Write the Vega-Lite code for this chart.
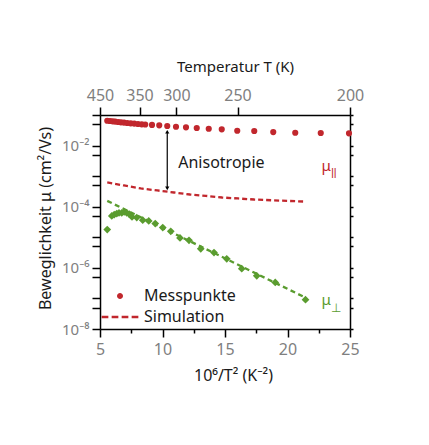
{
  "$schema": "https://vega.github.io/schema/vega-lite/v6.json",
  "width": 250,
  "height": 214,
  "autosize": {"type": "none"},
  "padding": {"left": 100, "top": 115, "right": 79, "bottom": 116},
  "background": "white",
  "config": {
    "font": "Noto Sans",
    "view": {"stroke": null},
    "axis": {
      "grid": false,
      "domainColor": "#000000",
      "tickColor": "#000000",
      "domainWidth": 1.5,
      "tickWidth": 1.5,
      "labelColor": "#7f7f7f",
      "labelFont": "Noto Sans",
      "labelFontSize": 16,
      "titleFont": "Noto Sans",
      "titleFontSize": 16,
      "titleFontWeight": "normal",
      "titleColor": "#1a1a1a",
      "labelOverlap": false,
      "labelFlush": false
    }
  },
  "datasets": {
    "par": [
      {"x": 5.58, "y": 0.0650}, {"x": 5.80, "y": 0.0636}, {"x": 6.02, "y": 0.0621},
      {"x": 6.22, "y": 0.0608}, {"x": 6.46, "y": 0.0589}, {"x": 6.68, "y": 0.0576},
      {"x": 6.92, "y": 0.0564}, {"x": 7.18, "y": 0.0547}, {"x": 7.46, "y": 0.0535},
      {"x": 7.74, "y": 0.0523}, {"x": 8.04, "y": 0.0507}, {"x": 8.34, "y": 0.0496},
      {"x": 8.62, "y": 0.0489}, {"x": 9.16, "y": 0.0474}, {"x": 9.74, "y": 0.0459},
      {"x": 10.38, "y": 0.0436}, {"x": 11.08, "y": 0.0413}, {"x": 11.88, "y": 0.0395},
      {"x": 12.74, "y": 0.0375}, {"x": 13.70, "y": 0.0356}, {"x": 14.74, "y": 0.0340},
      {"x": 15.98, "y": 0.0306}, {"x": 17.34, "y": 0.0299}, {"x": 18.86, "y": 0.0277},
      {"x": 20.62, "y": 0.0263}, {"x": 22.66, "y": 0.0257}, {"x": 24.92, "y": 0.0251}
    ],
    "perp": [
      {"x": 5.58, "y": 1.79e-5}, {"x": 5.94, "y": 4.99e-5}, {"x": 6.14, "y": 5.55e-5},
      {"x": 6.34, "y": 5.98e-5}, {"x": 6.52, "y": 6.26e-5}, {"x": 6.74, "y": 6.26e-5},
      {"x": 6.94, "y": 6.76e-5}, {"x": 7.14, "y": 6.26e-5}, {"x": 7.34, "y": 5.68e-5},
      {"x": 7.56, "y": 4.63e-5}, {"x": 7.94, "y": 4.43e-5}, {"x": 8.42, "y": 3.61e-5},
      {"x": 8.90, "y": 3.42e-5}, {"x": 9.42, "y": 2.81e-5}, {"x": 10.02, "y": 2.08e-5},
      {"x": 10.66, "y": 1.57e-5}, {"x": 11.40, "y": 9.48e-6}, {"x": 12.12, "y": 7.97e-6},
      {"x": 13.06, "y": 4.20e-6}, {"x": 14.12, "y": 3.15e-6}, {"x": 15.14, "y": 1.97e-6},
      {"x": 16.34, "y": 9.41e-7}, {"x": 17.54, "y": 5.47e-7}, {"x": 19.02, "y": 3.35e-7},
      {"x": 21.44, "y": 9.06e-8}
    ],
    "simpar": [
      {"x": 5.58, "y": 6.21e-4}, {"x": 6.92, "y": 4.95e-4}, {"x": 8.26, "y": 3.95e-4},
      {"x": 9.58, "y": 3.40e-4}, {"x": 10.92, "y": 2.92e-4}, {"x": 12.20, "y": 2.51e-4},
      {"x": 13.48, "y": 2.26e-4}, {"x": 14.76, "y": 2.00e-4}, {"x": 16.06, "y": 1.86e-4},
      {"x": 17.34, "y": 1.72e-4}, {"x": 18.68, "y": 1.63e-4}, {"x": 19.98, "y": 1.55e-4},
      {"x": 21.40, "y": 1.47e-4}
    ],
    "simperp": [
      {"x": 5.58, "y": 1.55e-4}, {"x": 10.0, "y": 2.03e-5},
      {"x": 15.0, "y": 2.05e-6}, {"x": 21.4, "y": 1.08e-7}
    ],
    "arrow": [
      {"x": 10.38, "y": 0.0283, "end": "top"},
      {"x": 10.38, "y": 0.00040, "end": "bottom"}
    ],
    "note": [
      {"x": 11.26, "y": 0.00261, "text": "Anisotropie"}
    ],
    "mu": [
      {"x": 22.72, "y": 0.00146, "sub": "ǁ", "series": "par"},
      {"x": 22.72, "y": 5.89e-8, "sub": "⊥", "series": "perp"}
    ],
    "legend": [
      {"entry": "Messpunkte"},
      {"entry": "Simulation"}
    ]
  },
  "resolve": {"axis": {"x": "independent", "y": "independent"}},
  "layer": [
    {
      "data": {"name": "simpar"},
      "mark": {"type": "line", "color": "#c1272d", "strokeDash": [5, 3], "strokeWidth": 2.3},
      "encoding": {
        "x": {"field": "x", "type": "quantitative", "scale": {"domain": [5, 25], "nice": false, "zero": false},
          "axis": {"orient": "bottom", "values": [5, 10, 15, 20, 25], "format": "d", "tickSize": 8, "labelPadding": 4, "titlePadding": 10, "titleX": 133, "title": "10⁶/T² (K⁻²)"}},
        "y": {"field": "y", "type": "quantitative", "scale": {"type": "log", "domain": [1e-8, 0.1], "nice": false},
          "axis": {"orient": "left", "title": "Beweglichkeit μ (cm²/Vs)", "tickSize": 8, "labelPadding": 3, "titlePadding": 8, "titleY": 103, "labelFontSize": 15,
            "values": [1e-8, 5e-8, 1e-7, 5e-7, 1e-6, 5e-6, 1e-5, 5e-5, 1e-4, 5e-4, 1e-3, 5e-3, 1e-2, 5e-2, 0.1],
            "labelExpr": "datum.value == 0.01 ? '10⁻²' : datum.value == 0.0001 ? '10⁻⁴' : datum.value == 0.000001 ? '10⁻⁶' : datum.value == 0.00000001 ? '10⁻⁸' : ''"}}
      }
    },
    {
      "data": {"name": "simperp"},
      "mark": {"type": "line", "color": "#5a9c2f", "strokeDash": [5, 3.5], "strokeWidth": 2.3},
      "encoding": {
        "x": {"field": "x", "type": "quantitative", "scale": {"domain": [5, 25], "nice": false, "zero": false},
          "axis": {"orient": "bottom", "values": [7.5, 12.5, 17.5, 22.5], "tickSize": 4, "labels": false, "domain": false, "title": null}},
        "y": {"field": "y", "type": "quantitative", "scale": {"type": "log", "domain": [1e-8, 0.1], "nice": false},
          "axis": {"orient": "right", "title": null, "labels": false, "tickSize": 3,
            "values": [1e-8, 5e-8, 1e-7, 5e-7, 1e-6, 5e-6, 1e-5, 5e-5, 1e-4, 5e-4, 1e-3, 5e-3, 1e-2, 5e-2, 0.1]}}
      }
    },
    {
      "data": {"name": "par"},
      "mark": {"type": "point", "filled": true, "size": 38, "color": "#c1272d", "opacity": 1},
      "encoding": {
        "x": {"field": "x", "type": "quantitative", "scale": {"domain": [5, 25], "nice": false, "zero": false},
          "axis": {"orient": "top", "values": [5, 8.163, 11.111, 16, 25], "tickSize": 8, "labelPadding": 4, "titlePadding": 13,
            "labelExpr": "datum.value <= 5 ? '450' : format(round(sqrt(1000000/datum.value)/10)*10, 'd')",
            "title": "Temperatur T (K)", "titleFontSize": 15, "titleX": 135,
            "encode": {"labels": {"update": {"dx": {"signal": "datum.value <= 5 ? -5 : (datum.value < 9 ? 3 : 0)"}}}}}},
        "y": {"field": "y", "type": "quantitative", "scale": {"type": "log", "domain": [1e-8, 0.1], "nice": false}, "axis": null}
      }
    },
    {
      "data": {"name": "perp"},
      "mark": {"type": "point", "filled": true, "shape": "diamond", "size": 60, "color": "#5a9c2f", "opacity": 1},
      "encoding": {
        "x": {"field": "x", "type": "quantitative", "scale": {"domain": [5, 25], "nice": false, "zero": false}, "axis": null},
        "y": {"field": "y", "type": "quantitative", "scale": {"type": "log", "domain": [1e-8, 0.1], "nice": false}, "axis": null}
      }
    },
    {
      "data": {"name": "arrow"},
      "mark": {"type": "line", "color": "#000000", "strokeWidth": 1.2},
      "encoding": {
        "x": {"field": "x", "type": "quantitative", "scale": {"domain": [5, 25], "nice": false, "zero": false}, "axis": null},
        "y": {"field": "y", "type": "quantitative", "scale": {"type": "log", "domain": [1e-8, 0.1], "nice": false}, "axis": null}
      }
    },
    {
      "data": {"name": "arrow"},
      "transform": [{"filter": "datum.end == 'top'"}],
      "mark": {"type": "point", "filled": true, "size": 18, "shape": "triangle-up", "color": "#000000", "opacity": 1},
      "encoding": {
        "x": {"field": "x", "type": "quantitative", "scale": {"domain": [5, 25], "nice": false, "zero": false}, "axis": null},
        "y": {"field": "y", "type": "quantitative", "scale": {"type": "log", "domain": [1e-8, 0.1], "nice": false}, "axis": null}
      }
    },
    {
      "data": {"name": "arrow"},
      "transform": [{"filter": "datum.end == 'bottom'"}],
      "mark": {"type": "point", "filled": true, "size": 18, "shape": "triangle-down", "color": "#000000", "opacity": 1},
      "encoding": {
        "x": {"field": "x", "type": "quantitative", "scale": {"domain": [5, 25], "nice": false, "zero": false}, "axis": null},
        "y": {"field": "y", "type": "quantitative", "scale": {"type": "log", "domain": [1e-8, 0.1], "nice": false}, "axis": null}
      }
    },
    {
      "data": {"name": "note"},
      "mark": {"type": "text", "align": "left", "baseline": "middle", "fontSize": 16, "color": "#1a1a1a"},
      "encoding": {
        "x": {"field": "x", "type": "quantitative", "scale": {"domain": [5, 25], "nice": false, "zero": false}, "axis": null},
        "y": {"field": "y", "type": "quantitative", "scale": {"type": "log", "domain": [1e-8, 0.1], "nice": false}, "axis": null},
        "text": {"field": "text"}
      }
    },
    {
      "data": {"name": "mu"},
      "mark": {"type": "text", "align": "left", "baseline": "alphabetic", "fontSize": 15, "text": "μ"},
      "encoding": {
        "x": {"field": "x", "type": "quantitative", "scale": {"domain": [5, 25], "nice": false, "zero": false}, "axis": null},
        "y": {"field": "y", "type": "quantitative", "scale": {"type": "log", "domain": [1e-8, 0.1], "nice": false}, "axis": null},
        "color": {"field": "series", "type": "nominal", "scale": {"domain": ["par", "perp"], "range": ["#c1272d", "#5a9c2f"]}, "legend": null}
      }
    },
    {
      "data": {"name": "mu"},
      "mark": {"type": "text", "align": "left", "baseline": "alphabetic", "fontSize": 12, "dx": 9, "dy": 7},
      "encoding": {
        "x": {"field": "x", "type": "quantitative", "scale": {"domain": [5, 25], "nice": false, "zero": false}, "axis": null},
        "y": {"field": "y", "type": "quantitative", "scale": {"type": "log", "domain": [1e-8, 0.1], "nice": false}, "axis": null},
        "text": {"field": "sub"},
        "color": {"field": "series", "type": "nominal", "scale": {"domain": ["par", "perp"], "range": ["#c1272d", "#5a9c2f"]}, "legend": null}
      }
    },
    {
      "data": {"name": "legend"},
      "mark": {"type": "point", "filled": true, "color": "#c1272d", "opacity": 0},
      "encoding": {
        "shape": {"field": "entry", "type": "nominal",
          "scale": {"domain": ["Messpunkte", "Simulation"],
            "range": ["M-0.6,0A0.6,0.6,0,1,1,0.6,0A0.6,0.6,0,1,1,-0.6,0Z", "M-3.67,-0.23H-2.33V0.23H-3.67ZM-1.67,-0.23H-0.33V0.23H-1.67ZM0.33,-0.23H1.67V0.23H0.33ZM2.33,-0.23H3.67V0.23H2.33Z"]},
          "legend": {"title": null, "orient": "none", "legendX": 1, "legendY": 173, "padding": 0,
            "symbolSize": 100, "symbolStrokeWidth": 0, "symbolOffset": 11, "labelOffset": 16, "rowPadding": 5,
            "labelFontSize": 16, "labelColor": "#1a1a1a", "labelFont": "Noto Sans",
            "symbolFillColor": "#c1272d", "symbolOpacity": 1,
            "encode": {"symbols": {"update": {"fill": {"value": "#c1272d"}, "opacity": {"value": 1}}}}}}
      }
    }
  ]
}
